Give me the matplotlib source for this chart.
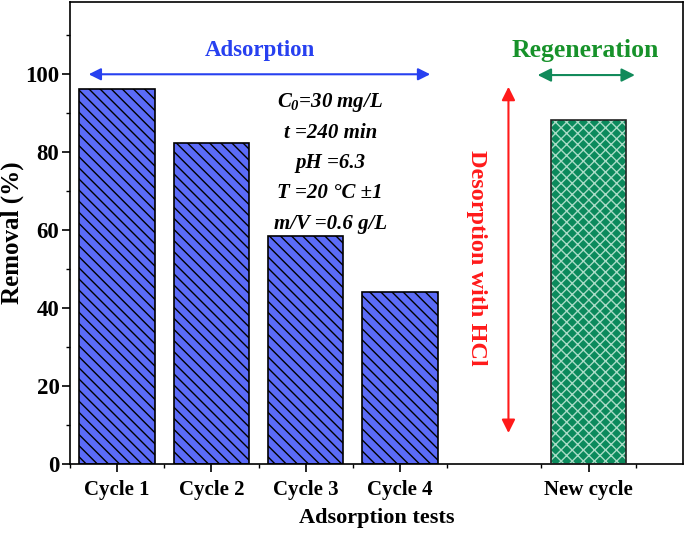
import matplotlib.pyplot as plt
import numpy as np

plt.rcParams['font.family'] = ['Liberation Serif', 'DejaVu Serif']
plt.rcParams['font.weight'] = 'bold'
plt.rcParams['axes.labelweight'] = 'bold'
plt.rcParams['mathtext.fontset'] = 'custom'
plt.rcParams['mathtext.it'] = 'Liberation Serif:bold:italic'
plt.rcParams['mathtext.rm'] = 'Liberation Serif:bold:italic'
plt.rcParams['hatch.linewidth'] = 1.0

# datos
ciclos = ['Cycle 1', 'Cycle 2', 'Cycle 3', 'Cycle 4']
remocion = [96.2, 82.4, 58.5, 44.2]
nuevo_ciclo = 'New cycle'
remocion_nuevo = 88.4
condiciones = ['$C_0$=30 mg/L', 't =240 min', 'pH =6.3',
               'T =20 °C ±1', 'm/V =0.6 g/L']

fig = plt.figure(figsize=(6.85, 5.33), dpi=100)
ax = fig.add_axes([0.102, 0.129, 0.895, 0.867])

x = np.arange(1, len(ciclos) + 1)
x_nuevo = len(ciclos) + 2

# barras de adsorcion
ax.bar(x, remocion, width=0.8, color='#5b6bf8', edgecolor='black',
       hatch='\\\\\\', linewidth=1.2, zorder=2)

# barra de regeneracion: trama blanca y borde negro aparte
ax.bar(x_nuevo, remocion_nuevo, width=0.8, color='#0b8a5c', edgecolor='#a9dcc6',
       hatch='xxx', linewidth=0, zorder=2)
ax.bar(x_nuevo, remocion_nuevo, width=0.8, color='none', edgecolor='#222222',
       linewidth=1.2, zorder=3)

# flechas y textos
ax.annotate('', xy=(0.67, 100), xytext=(4.35, 100),
            arrowprops=dict(arrowstyle='<|-|>', color='#2740f0', lw=1.5,
                            mutation_scale=18))
ax.text(2.52, 106, 'Adsorption', color='#2740f0', fontsize=16.5,
        ha='center', va='center')

ax.annotate('', xy=(5.43, 99.8), xytext=(6.52, 99.8),
            arrowprops=dict(arrowstyle='<|-|>', color='#118a5a', lw=1.5,
                            mutation_scale=20))
ax.text(5.96, 106, 'Regeneration', color='#17922a', fontsize=18.5,
        ha='center', va='center')

ax.annotate('', xy=(5.15, 97.5), xytext=(5.15, 7.3),
            arrowprops=dict(arrowstyle='<|-|>', color='#ff1a1a', lw=1.5,
                            mutation_scale=20))
ax.text(4.81, 53, 'Desorption with HCl', color='#ff1a1a', fontsize=17.5,
        rotation=-90, ha='center', va='center')

y_textos = [92.8, 84.9, 77.2, 69.5, 61.5]
for texto, yt in zip(condiciones, y_textos):
    ax.text(3.26, yt, texto, fontsize=15, style='italic', ha='center', va='center')

# ejes
ax.set_xlim(0.5, 7.0)
ax.set_ylim(0, 118.5)
ax.set_xticks(list(x) + [x_nuevo])
ax.set_xticklabels(ciclos + [nuevo_ciclo])
ax.set_xticks(np.arange(0.5, 7.0, 1.0), minor=True)
ax.set_yticks(np.arange(0, 101, 20))
ax.set_yticks(np.arange(10, 111, 20), minor=True)
ax.tick_params(axis='x', which='major', labelsize=15, length=6, width=1.2,
               direction='out', pad=5)
ax.tick_params(axis='y', which='major', labelsize=16.5, length=6, width=1.2,
               direction='out', pad=1.5)
ax.tick_params(axis='both', which='minor', length=3, width=1.0, direction='out')
ax.set_xlabel('Adsorption tests', fontsize=16, labelpad=6)
ax.set_ylabel('Removal (%)', fontsize=18)
ax.yaxis.set_label_coords(-0.075, 0.5)
for s in ax.spines.values():
    s.set_linewidth(1.2)

plt.savefig('out.png', dpi=100)
plt.close()
